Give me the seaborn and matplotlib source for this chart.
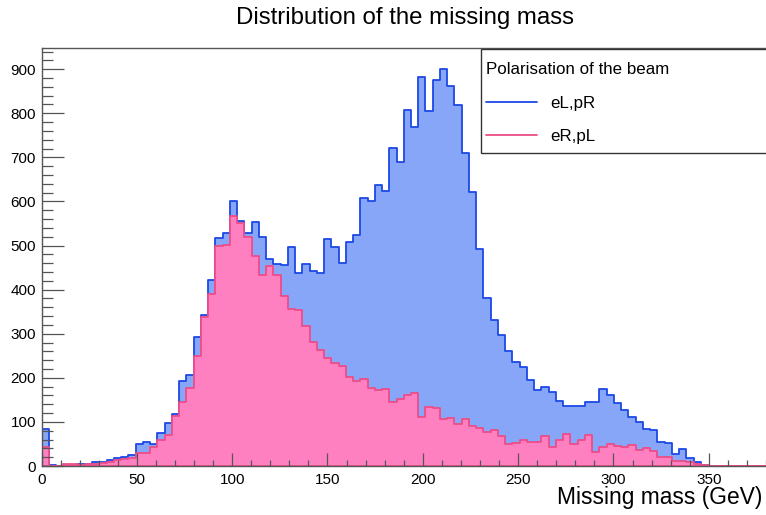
import numpy as np
import pandas as pd
import seaborn as sns
import matplotlib
matplotlib.use("Agg")
import matplotlib.pyplot as plt
from matplotlib.lines import Line2D
from matplotlib.patches import Rectangle
from matplotlib.ticker import MultipleLocator

# ---------------- data (100 bins from 0 to 380 GeV) ----------------
x_min, x_max = 0.0, 380.0
eLpR = [83, 3, 1, 1, 3, 5, 5, 8, 8, 13,
        19, 20, 26, 49, 54, 49, 74, 97, 118, 193,
        206, 293, 342, 421, 517, 529, 601, 556, 529, 554,
        520, 470, 459, 455, 497, 437, 459, 443, 438, 515,
        496, 461, 508, 524, 608, 600, 637, 624, 721, 689,
        807, 768, 883, 805, 875, 900, 862, 818, 709, 621,
        492, 381, 330, 298, 260, 235, 225, 195, 172, 179,
        168, 147, 135, 135, 135, 145, 145, 174, 161, 142,
        126, 111, 100, 83, 81, 54, 52, 28, 38, 18,
        10, 2, 0, 0, 0, 0, 0, 0, 0, 0]
eRpL = [44, 1, 0, 4, 5, 3, 4, 4, 6, 8,
        13, 15, 18, 30, 30, 43, 59, 71, 114, 146,
        178, 250, 338, 389, 500, 501, 568, 551, 520, 477,
        433, 453, 434, 385, 357, 354, 317, 282, 264, 246,
        234, 227, 201, 193, 197, 177, 172, 175, 145, 152,
        160, 165, 112, 134, 131, 107, 108, 95, 107, 90,
        86, 78, 81, 69, 49, 53, 60, 55, 54, 69,
        44, 60, 73, 49, 60, 71, 31, 42, 50, 45,
        44, 48, 36, 40, 35, 21, 21, 12, 12, 10,
        5, 3, 1, 0, 0, 0, 0, 0, 0, 0]
labels = ["eL,pR", "eR,pL"]
title = "Distribution of the missing mass"
xlabel = "Missing mass (GeV)"
legend_title = "Polarisation of the beam"

n = len(eLpR)
edges = np.linspace(x_min, x_max, n + 1)
centers = (edges[:-1] + edges[1:]) / 2
df = pd.DataFrame({"mass": np.concatenate([centers, centers]),
                   "count": np.concatenate([eLpR, eRpL]),
                   "pol": [labels[0]] * n + [labels[1]] * n})

# ---------------- style ----------------
sns.set_style("ticks")
plt.rcParams["font.family"] = ["Liberation Sans", "DejaVu Sans"]
plt.rcParams["text.color"] = "black"
plt.rcParams["xtick.labelcolor"] = "black"
plt.rcParams["ytick.labelcolor"] = "black"

W, H = 766, 515
fig = plt.figure(figsize=(W / 100, H / 100), dpi=100)
ax = fig.add_axes([41.5 / W, 1 - 466 / H, (W - 41.5) / W, (466 - 48) / H])

fill_cols = {"eL,pR": "#87a6f7", "eR,pL": "#ff80c0"}
line_cols = {"eL,pR": "#1c48e6", "eR,pL": "#ee4d88"}

for lab in labels:
    sub = df[df["pol"] == lab]
    sns.histplot(data=sub, x="mass", weights="count", bins=list(edges),
                 element="step", fill=True, alpha=1,
                 facecolor=fill_cols[lab], edgecolor=line_cols[lab],
                 linewidth=1.3, ax=ax)

ax.set_xlim(x_min, x_max)
ax.set_ylim(0, 948)
ax.set_xlabel("")
ax.set_ylabel("")

ax.xaxis.set_major_locator(MultipleLocator(50))
ax.xaxis.set_minor_locator(MultipleLocator(10))
ax.yaxis.set_major_locator(MultipleLocator(100))
ax.yaxis.set_minor_locator(MultipleLocator(20))
ax.tick_params(axis="x", which="major", direction="in", length=9.5, width=0.9,
               color="#555555", labelsize=11, pad=5, labelcolor="black")
ax.tick_params(axis="x", which="minor", direction="in", length=4.5, width=0.9,
               color="#555555")
ax.tick_params(axis="y", which="major", direction="in", length=16, width=0.9,
               color="#555555", labelsize=11, pad=4, labelcolor="black")
ax.tick_params(axis="y", which="minor", direction="in", length=8, width=0.9,
               color="#555555")
for s in ["left", "bottom", "top"]:
    ax.spines[s].set_visible(True)
    ax.spines[s].set_color("#555555")
    ax.spines[s].set_linewidth(1.0)
ax.spines["right"].set_visible(False)
ax.set_axisbelow(False)

# ---------------- texts ----------------
fig.text(405 / W, 1 - 24 / H, title, ha="center", va="baseline",
         fontsize=17.3, color="black")
fig.text(762 / W, 1 - 504 / H, xlabel, ha="right", va="baseline",
         fontsize=16.4, color="black")

# ---------------- legend ----------------
frame = Rectangle((481 / W, 1 - 153 / H), 400 / W, (153 - 49) / H,
                  transform=fig.transFigure, facecolor="white",
                  edgecolor="#333333", linewidth=1.0, zorder=5, clip_on=False)
ax.add_artist(frame)
handles = [Line2D([], [], color=line_cols[l], linewidth=1.3) for l in labels]
leg = ax.legend(handles, labels, title=legend_title, frameon=False,
                loc="upper left", bbox_to_anchor=(486 / W, 1 - 62 / H),
                bbox_transform=fig.transFigure, fontsize=12.2,
                title_fontsize=12.2, handlelength=3.0, handletextpad=0.8,
                labelspacing=1.1, borderpad=0.0, borderaxespad=0.0)
leg._legend_box.align = "left"
leg.get_title().set_color("black")
for t in leg.get_texts():
    t.set_color("black")
leg.set_zorder(6)

fig.savefig("out.png", dpi=100)
